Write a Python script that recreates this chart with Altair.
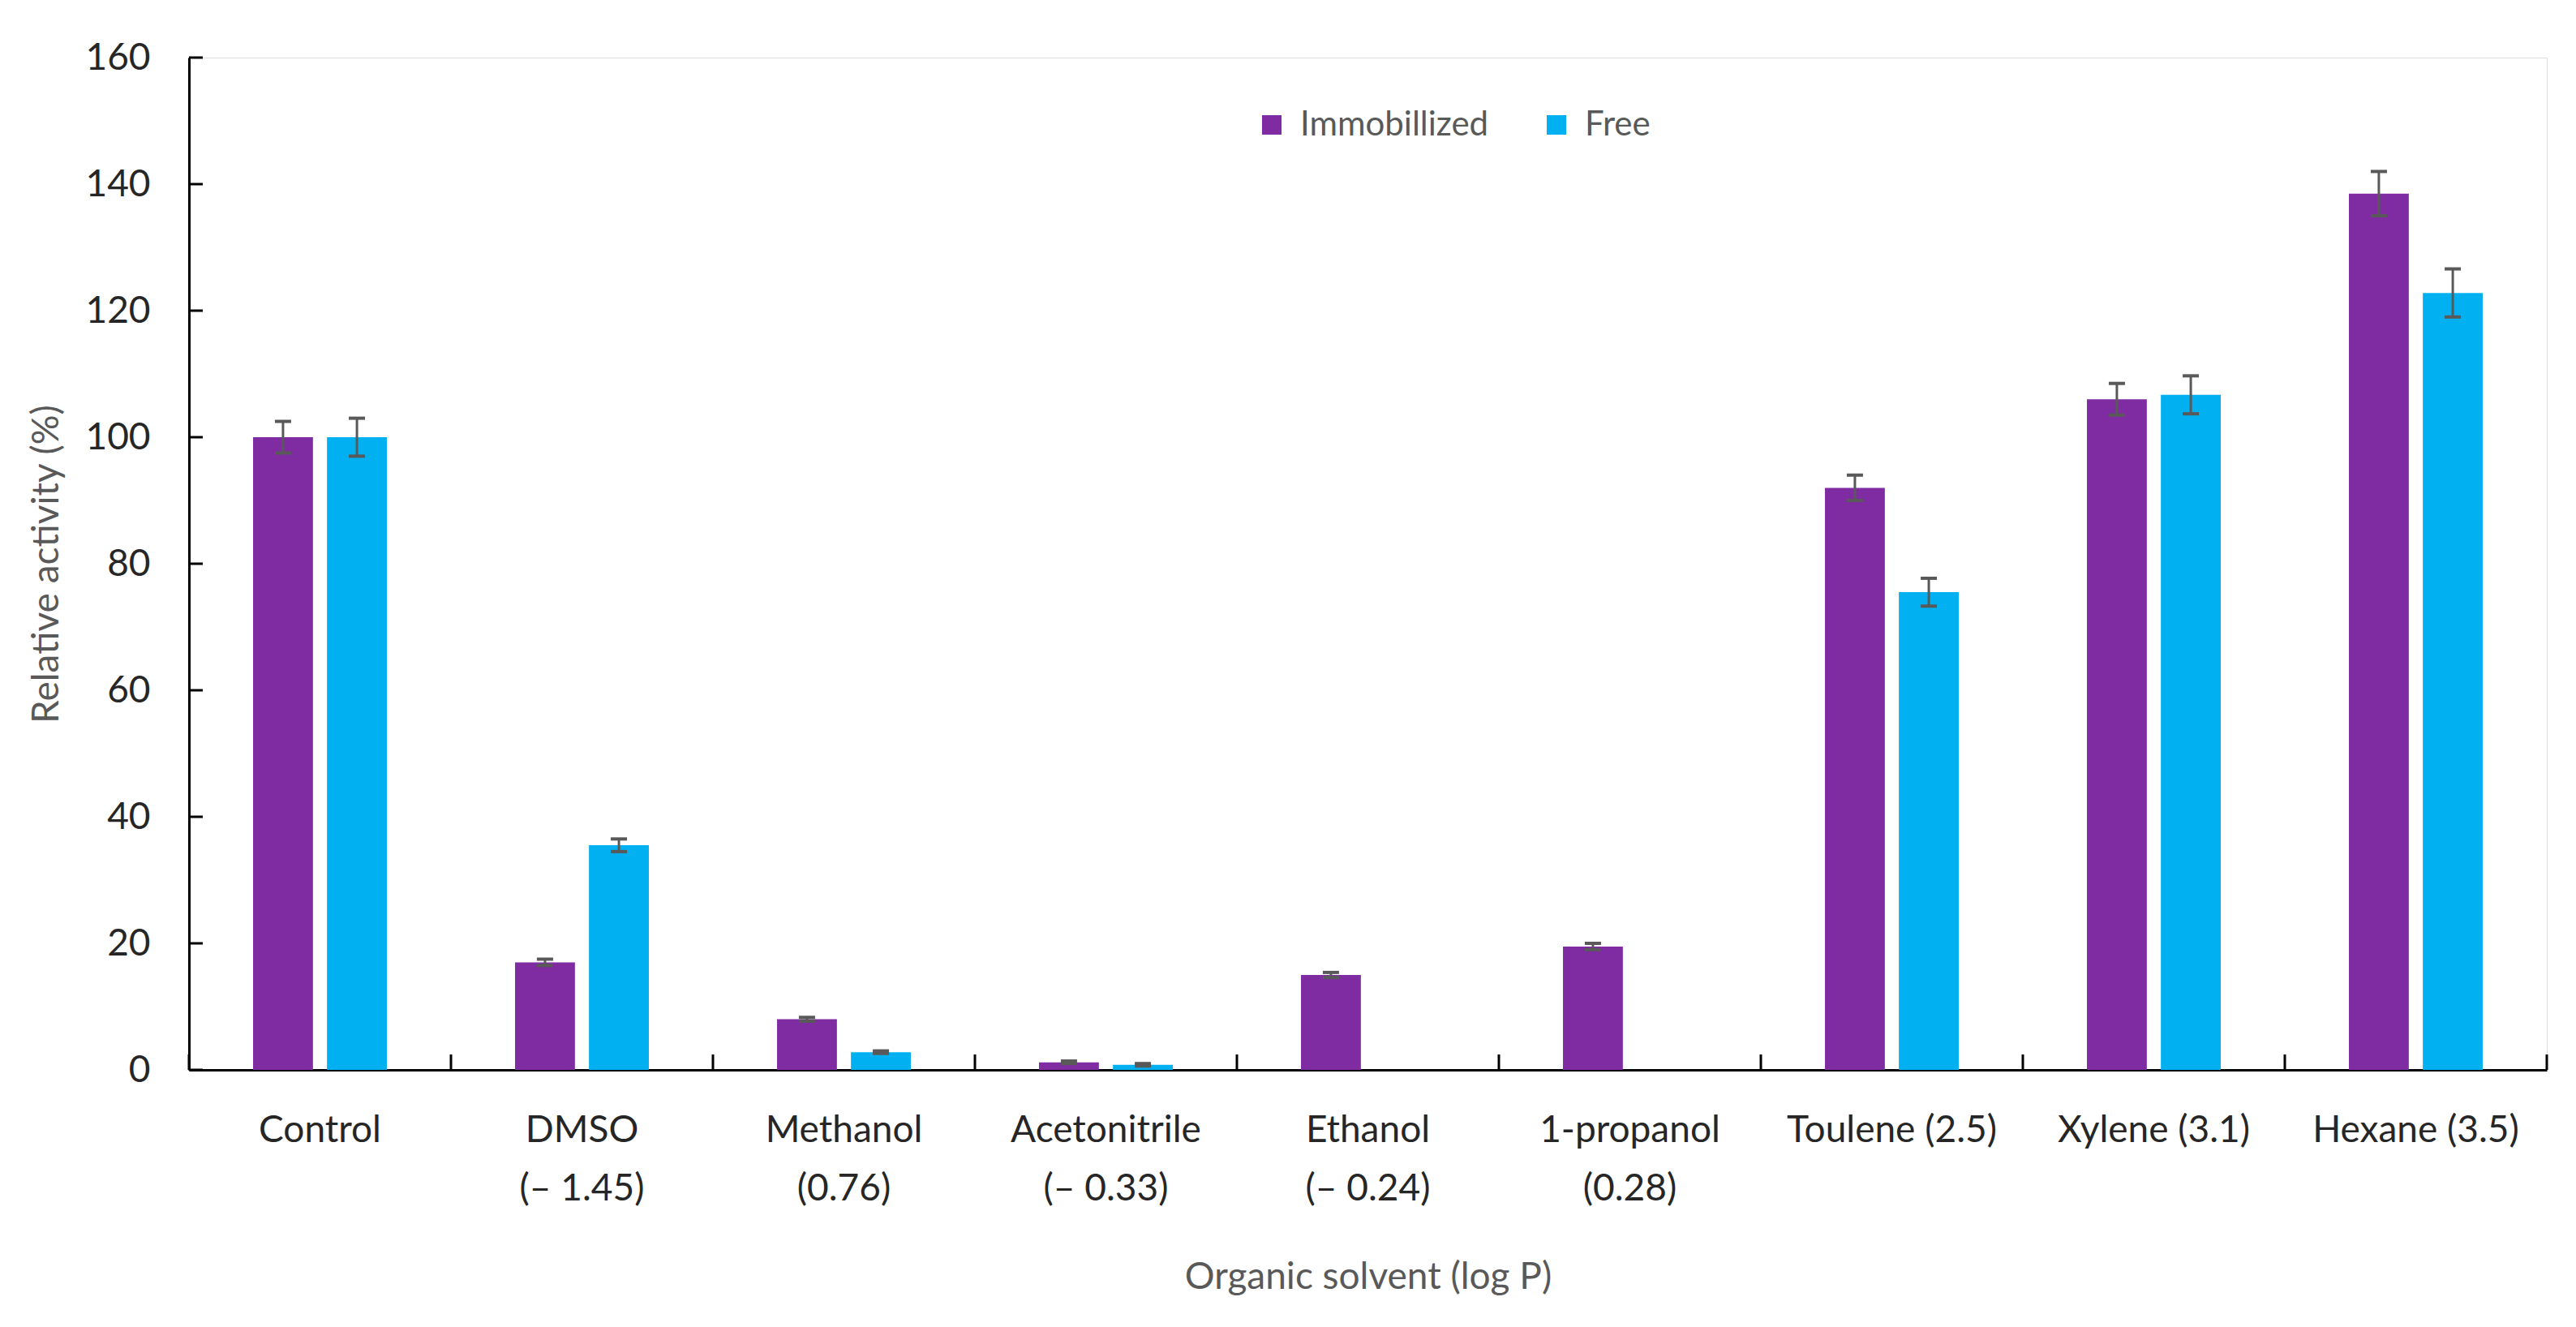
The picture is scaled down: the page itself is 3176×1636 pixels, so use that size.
import altair as alt
import pandas as pd

# ---- data ----
solvents = ["Control", "DMSO", "Methanol", "Acetonitrile", "Ethanol",
            "1-propanol", "Toulene (2.5)", "Xylene (3.1)", "Hexane (3.5)"]
logp_line = ["", "(– 1.45)", "(0.76)", "(– 0.33)", "(– 0.24)", "(0.28)", "", "", ""]
series = ["Immobillized", "Free"]
immob = [100.0, 17.0, 8.0, 1.2, 15.0, 19.5, 92.0, 106.0, 138.5]
immob_err = [2.5, 0.5, 0.3, 0.2, 0.4, 0.5, 2.0, 2.5, 3.5]
free = [100.0, 35.5, 2.8, 0.8, 0.0, 0.0, 75.5, 106.7, 122.8]
free_err = [3.0, 1.0, 0.2, 0.2, None, None, 2.2, 3.0, 3.8]
yticks = [0, 20, 40, 60, 80, 100, 120, 140, 160]

colors = ["#7F2CA2", "#00B0F0"]
FONT = "Lato"
W, H = 2907, 1248

cats = [s if l == "" else s + "|" + l for s, l in zip(solvents, logp_line)]

rows = []
for c, v, e in zip(cats, immob, immob_err):
    rows.append({"cat": c, "series": series[0], "value": v, "err": e})
for c, v, e in zip(cats, free, free_err):
    rows.append({"cat": c, "series": series[1], "value": v, "err": e})
df = pd.DataFrame(rows)
df_err = df.dropna(subset=["err"]).copy()
df_err["lo"] = df_err["value"] - df_err["err"]
df_err["hi"] = df_err["value"] + df_err["err"]

xscale = alt.Scale(domain=cats, paddingInner=0, paddingOuter=0)
yscale = alt.Scale(domain=[0, 160], nice=False)
offscale = alt.Scale(domain=series, paddingInner=0.19, paddingOuter=0.867)

x_enc = alt.X(
    "cat:N", sort=cats, scale=xscale,
    axis=alt.Axis(
        title="Organic solvent (log P)", titleFont=FONT, titleFontSize=46,
        titleFontWeight="normal", titleColor="#595959",
        titleY=255, titleBaseline="middle",
        labelExpr="split(datum.label, '|')", labelFont=FONT, labelFontSize=46,
        labelColor="#262626", labelAngle=0, labelPadding=52, labelLineHeight=72,
        labelLimit=0, ticks=False, domainColor="#000000", domainWidth=3,
    ),
)
y_enc = alt.Y(
    "value:Q", scale=yscale,
    axis=alt.Axis(
        title="Relative activity (%)", titleFont=FONT, titleFontSize=46,
        titleFontWeight="normal", titleColor="#595959",
        titleAngle=270, titleX=-176, titleY=H / 2,
        titleAlign="center", titleBaseline="middle",
        values=yticks, labelFont=FONT, labelFontSize=46, labelColor="#262626",
        labelPadding=48, ticks=False, domainColor="#000000", domainWidth=3,
        grid=False,
    ),
)

bars = alt.Chart(df).mark_bar().encode(
    x=x_enc,
    y=y_enc,
    xOffset=alt.XOffset("series:N", sort=series, scale=offscale),
    color=alt.Color(
        "series:N", sort=series,
        scale=alt.Scale(domain=series, range=colors),
        legend=alt.Legend(
            title=None, orient="none", legendX=1314, legendY=62,
            direction="horizontal", symbolType="square", symbolSize=576,
            symbolStrokeWidth=0, symbolOpacity=1, labelFont=FONT,
            labelFontSize=42, labelColor="#595959", labelOffset=14,
            labelLimit=0, columnPadding=62,
        ),
    ),
)

err_rule = alt.Chart(df_err).mark_rule(color="#595959", strokeWidth=3).encode(
    x=alt.X("cat:N", sort=cats, scale=xscale),
    xOffset=alt.XOffset("series:N", sort=series, scale=offscale),
    y=alt.Y("lo:Q", scale=yscale),
    y2="hi:Q",
)
cap_lo = alt.Chart(df_err).mark_tick(color="#595959", size=20, thickness=4, opacity=1).encode(
    x=alt.X("cat:N", sort=cats, scale=xscale),
    xOffset=alt.XOffset("series:N", sort=series, scale=offscale),
    y=alt.Y("lo:Q", scale=yscale),
)
cap_hi = alt.Chart(df_err).mark_tick(color="#595959", size=20, thickness=4, opacity=1).encode(
    x=alt.X("cat:N", sort=cats, scale=xscale),
    xOffset=alt.XOffset("series:N", sort=series, scale=offscale),
    y=alt.Y("hi:Q", scale=yscale),
)

# inward y-axis ticks
ytick_df = pd.DataFrame({"v": yticks})
ytick_rules = alt.Chart(ytick_df).mark_rule(color="#000000", strokeWidth=3).encode(
    y=alt.Y("v:Q", scale=yscale),
    x=alt.value(0),
    x2=alt.value(17),
)

# inward category separator ticks
sep_df = pd.DataFrame({"cat": cats})
sep_left = alt.Chart(sep_df).mark_rule(color="#000000", strokeWidth=3).encode(
    x=alt.X("cat:N", sort=cats, scale=xscale, bandPosition=0),
    y=alt.value(H),
    y2=alt.value(H - 19),
)
sep_right = alt.Chart(pd.DataFrame({"cat": [cats[-1]]})).mark_rule(
    color="#000000", strokeWidth=3).encode(
    x=alt.X("cat:N", sort=cats, scale=xscale, bandPosition=1),
    y=alt.value(H),
    y2=alt.value(H - 19),
)

chart = alt.layer(
    bars, err_rule, cap_lo, cap_hi, ytick_rules, sep_left, sep_right
).properties(
    width=W, height=H,
    autosize=alt.AutoSizeParams(type="none"),
    padding={"left": 225, "top": 63, "right": 28, "bottom": 309},
).configure_view(stroke=None).configure(background="#ffffff")

chart.save("out.html", embed_options={"renderer": "svg", "actions": False})
